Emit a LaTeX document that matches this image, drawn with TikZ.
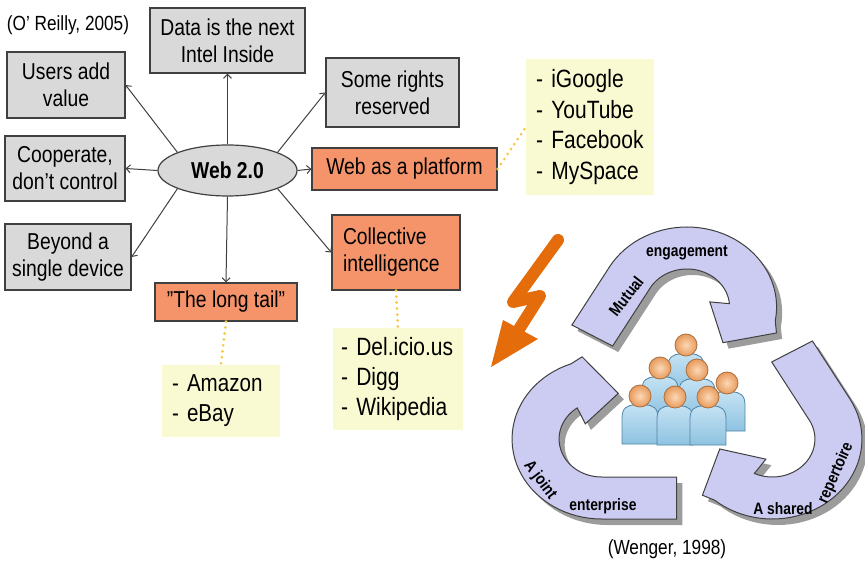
\documentclass[tikz,border=0pt]{standalone}
\usepackage{fontspec}
\setmainfont{Liberation Sans}[FakeStretch=0.84]
\usetikzlibrary{arrows.meta,calc,shapes.geometric}

\definecolor{boxgray}{HTML}{D9D9D9}
\definecolor{edgegray}{HTML}{404040}
\definecolor{hotorange}{HTML}{F5946A}
\definecolor{notecream}{HTML}{FAFAD2}
\definecolor{dotyellow}{HTML}{F5C842}
\definecolor{boltorange}{HTML}{E46C0A}
\definecolor{loopblue}{HTML}{CCCCF2}
\definecolor{loopshadow}{HTML}{9C9C9C}
\definecolor{skin}{HTML}{E89A5C}
\definecolor{skinlight}{HTML}{FBD8B6}
\definecolor{skinedge}{HTML}{A8703E}
\definecolor{shirttop}{HTML}{C4E2F3}
\definecolor{shirtbottom}{HTML}{8EC2E0}
\definecolor{shirtedge}{HTML}{4F84A8}

\tikzset{
  idea/.style={draw=edgegray, line width=1.2pt, fill=boxgray, inner sep=0pt,
    align=center, font=\fontsize{23}{27}\selectfont},
  hot/.style={idea, fill=hotorange},
  note/.style={fill=notecream, inner xsep=10pt, inner ysep=0pt, align=left,
    font=\fontsize{25}{30.5}\selectfont},
  link/.style={draw=edgegray, line width=1pt, -{Straight Barb[length=4pt,width=8pt]}},
  hint/.style={draw=dotyellow, line width=3pt, line cap=round, dash pattern=on 0pt off 6pt},
  cyc/.style={font=\fontsize{16.5}{18}\selectfont\bfseries, inner sep=0pt},
  source/.style={font=\fontsize{20.5}{24}\selectfont, inner sep=0pt},
}

% one looping arrow, turn centre at the origin, angles run clockwise
\newcommand{\loopband}[1]{%
  \fill[#1] ($(210:80)+(120:67)$) -- plot[domain=210:370, samples=41] (\x:80)
    -- (378:84) -- (408:48) -- (346:21)
    -- plot[domain=355:210, samples=41] (\x:38)
    -- ($(210:38)+(120:67)$) -- cycle;}

% one member of the community: shoulders, then head
\newcommand{\person}[2]{%
  \begin{scope}[shift={(#1,#2)}]
    \shadedraw[top color=shirttop, bottom color=shirtbottom, draw=shirtedge, line width=0.8pt]
      (-18,48) -- (-18,22) .. controls (-18,12) and (-13,9) .. (-5,9)
      -- (5,9) .. controls (13,9) and (18,12) .. (18,22) -- (18,48) -- cycle;
    \shadedraw[inner color=skinlight, outer color=skin, draw=skinedge, line width=0.8pt]
      (0,0) circle (11pt);
  \end{scope}}

\begin{document}
\begin{tikzpicture}[x=1pt,y=-1pt]
  \useasboundingbox (0,0) rectangle (865,561);

  % 1. Hub and the ideas around it
  \node[ellipse, draw=edgegray, line width=1.2pt, fill=boxgray, inner sep=0pt,
    minimum width=139pt, minimum height=51pt,
    font=\fontsize{23}{27}\selectfont\bfseries] (web) at (227.5,170.5) {Web 2.0};

  \node[idea, minimum width=155pt, minimum height=65pt] (data) at (227.5,40.5) {Data is the next\\Intel Inside};
  \node[idea, minimum width=118pt, minimum height=66pt] (users) at (66,85) {Users add\\value};
  \node[idea, minimum width=120pt, minimum height=65pt] (coop) at (65,168.5) {Cooperate,\\don’t control};
  \node[idea, minimum width=126pt, minimum height=66pt] (beyond) at (68,257) {Beyond a\\single device};
  \node[idea, minimum width=133pt, minimum height=69pt] (rights) at (392.5,92.5) {Some rights\\reserved};

  \node[hot, minimum width=185pt, minimum height=42pt] (platform) at (404.5,169) {Web as a platform};
  \node[hot, align=left, text width=106pt, inner xsep=11pt, minimum height=75pt] (collective) at (396,252.5) {Collective\\intelligence};
  \node[hot, minimum width=142pt, minimum height=38pt] (longtail) at (226,302) {"The long tail"};

  \node[source] (oreilly) at (68,25) {(O’ Reilly, 2005)};

  % 2. Examples in the cream notes
  \node[note, text width=108pt, minimum height=136pt] (sites) at (590,127) {-~iGoogle\\-~YouTube\\-~Facebook\\-~MySpace};
  \node[note, text width=98pt, minimum height=72pt, font=\fontsize{24.5}{30}\selectfont] (shops) at (221,401) {-~Amazon\\-~eBay};
  \node[note, text width=114pt, inner xsep=8pt, minimum height=102pt, font=\fontsize{25}{30}\selectfont] (social) at (398,379) {-~Del.icio.us\\-~Digg\\-~Wikipedia};

  % 3. Connectors
  \draw[link] (web.north) -- (data.south);
  \draw[link] (web.160) -- (users.east);
  \draw[link] (web.west) -- (coop.east);
  \draw[link] (web.200) -- (beyond.east);
  \draw[link] (web.20) -- (rights.west);
  \draw[link] (web.east) -- (platform.west);
  \draw[link] (web.340) -- (collective.west);
  \draw[link] (web.south) -- (longtail.north);

  \draw[hint] (platform.east) -- (sites.west);
  \draw[hint] (longtail.south) -- (shops.north);
  \draw[hint] (collective.south) -- (social.north);

  % 4. Lightning bolt
  \draw[boltorange, line width=12pt, line cap=round, line join=round]
    (558,240) -- (513,302) -- (540,296) -- (516,334);
  \fill[boltorange] (503,320) -- (538,339) -- (491,367) -- cycle;

  % 5. Three looping arrows, shadows first
  \begin{scope}[shift={(687,395)}, xscale=1.12]
    \foreach \spot/\turn in {270/0, 30/-120, 150/-240} {
      \begin{scope}[shift={(5,6)}, shift={(\spot:88)}, rotate=\turn]
        \loopband{loopshadow}
      \end{scope}
    }
    \foreach \spot/\turn in {270/0, 30/-120, 150/-240} {
      \begin{scope}[shift={(\spot:88)}, rotate=\turn]
        \loopband{fill=loopblue, draw=edgegray, line width=1pt}
      \end{scope}
    }
  \end{scope}

  \node[cyc, rotate=52] (mutual) at (626,296) {Mutual};
  \node[cyc] (engage) at (687,253) {engagement};
  \node[cyc, rotate=66] (repert) at (836,473) {repertoire};
  \node[cyc] (shared) at (783,509) {A shared};
  \node[cyc, rotate=-53] (joint) at (540,480) {A joint};
  \node[cyc] (enterp) at (603,506) {enterprise};

  % 6. The community, back row first
  \person{686}{345}
  \person{660}{368}
  \person{697}{370}
  \person{727}{383}
  \person{640}{396}
  \person{675}{397}
  \person{708}{397}

  \node[source] (wenger) at (667,549) {(Wenger, 1998)};

\end{tikzpicture}
\end{document}
